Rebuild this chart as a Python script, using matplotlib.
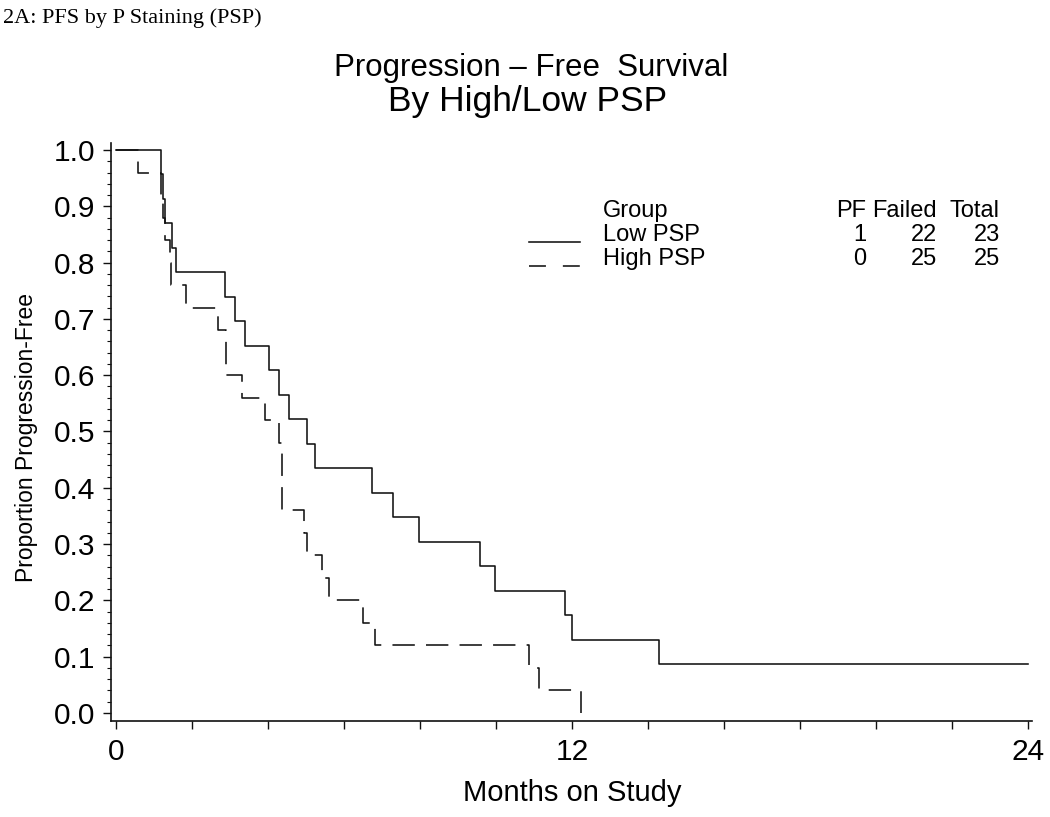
"""
Progression-free survival by high/low PSP (Kaplan-Meier step curves).
Values are read off the published figure.
"""

import matplotlib
matplotlib.use("Agg")
import matplotlib.pyplot as plt
from matplotlib.lines import Line2D
from matplotlib.ticker import MultipleLocator

# -----------------------------------------------------------------------
# Low PSP (solid line): event times in months and proportion progression-free
low_months = [0.0, 1.18, 1.24, 1.28, 1.46, 1.58, 2.87, 3.13, 3.39, 4.03, 4.29,
              4.54, 5.03, 5.24, 6.74, 7.27, 7.96, 9.56, 9.97, 11.82, 11.99,
              14.27, 24.0]
low_pf = [1.0, 0.957, 0.913, 0.870, 0.826, 0.783, 0.739, 0.696, 0.652, 0.609,
          0.565, 0.522, 0.478, 0.435, 0.391, 0.348, 0.304, 0.261, 0.217,
          0.174, 0.130, 0.087, 0.087]

# High PSP (dashed line)
high_months = [0.0, 0.56, 1.18, 1.22, 1.28, 1.41, 1.43, 1.84, 2.67, 2.89, 2.89,
               3.32, 3.91, 4.28, 4.36, 4.36, 4.36, 4.93, 5.02, 5.41, 5.61,
               6.48, 6.82, 10.87, 11.13, 12.23]
high_pf = [1.0, 0.96, 0.92, 0.88, 0.84, 0.80, 0.76, 0.72, 0.68, 0.64, 0.60,
           0.56, 0.52, 0.48, 0.44, 0.40, 0.36, 0.32, 0.28, 0.24, 0.20, 0.16,
           0.12, 0.08, 0.04, 0.00]

legend_groups = ["Low PSP", "High PSP"]
legend_cols = ["PF", "Failed", "Total"]
legend_counts = [["1", "22", "23"], ["0", "25", "25"]]

x_major = [0, 12, 24]
x_labels = ["0", "12", "24"]
x_minor = [0, 2, 4, 6, 8, 10, 12, 14, 16, 18, 20, 22, 24]
y_major = [0.0, 0.1, 0.2, 0.3, 0.4, 0.5, 0.6, 0.7, 0.8, 0.9, 1.0]
y_labels = ["0.0", "0.1", "0.2", "0.3", "0.4", "0.5", "0.6", "0.7", "0.8",
            "0.9", "1.0"]

W, H = 1050, 817
INK = "#111111"
SANS = "Liberation Sans"


def px(x):
    return x / W


def py(y):
    return 1 - y / H


# -----------------------------------------------------------------------
fig = plt.figure(figsize=(W / 100, H / 100), dpi=100, facecolor="white")
ax = fig.add_axes([px(111), py(721), px(1032) - px(111), py(143) - py(721)])

ax.step(low_months, low_pf, where="post", color=INK, linewidth=1.15)
ax.step(high_months, high_pf, where="post", color=INK, linewidth=1.15,
        linestyle=(0, (14, 7)))

ax.set_xlim(-0.14, 24.1)
ax.set_ylim(-0.0142, 1.0124)

for side in ("top", "right"):
    ax.spines[side].set_visible(False)
for side in ("left", "bottom"):
    ax.spines[side].set_linewidth(1.2)
    ax.spines[side].set_color(INK)

ax.set_xticks(x_major)
ax.set_xticks(x_minor, minor=True)
ax.set_xticklabels(x_labels, fontsize=21.5, family=SANS)
ax.set_yticks(y_major)
ax.set_yticklabels(y_labels, fontsize=21.5, family=SANS)
ax.yaxis.set_minor_locator(MultipleLocator(0.02))

ax.tick_params(axis="x", which="both", length=6, width=1, color=INK, pad=6)
ax.tick_params(axis="y", which="major", length=6, width=1, color=INK, pad=5)
ax.tick_params(axis="y", which="minor", length=3, width=0.8, color=INK)

# titles and labels
fig.text(px(3), py(18), "2A: PFS by P Staining (PSP)", family="Liberation Serif",
         fontsize=16, va="center", ha="left")
fig.text(px(531), py(68), "Progression \u2013 Free  Survival", family=SANS,
         fontsize=22.5, va="center", ha="center")
fig.text(px(528), py(101), "By High/Low PSP", family=SANS, fontsize=25.5,
         va="center", ha="center")
fig.text(px(572), py(793), "Months on Study", family=SANS, fontsize=21,
         va="center", ha="center")
fig.text(px(27), py(437), "Proportion Progression-Free", family=SANS,
         fontsize=16.5, va="center", ha="center", rotation=90)

# legend block
LEG_FS = 17
fig.text(px(603), py(217), "Group", family=SANS, fontsize=LEG_FS, va="baseline")
col_right = [866, 937, 1000]
for name, xr in zip(legend_cols, col_right):
    fig.text(px(xr), py(217), name, family=SANS, fontsize=LEG_FS,
             va="baseline", ha="right")

row_base = [241, 265]
line_y = [242, 266]
styles = [dict(linestyle="-"), dict(linestyle=(0, (10.6, 10.6)))]
for grp, counts, yb, yl, st in zip(legend_groups, legend_counts, row_base,
                                   line_y, styles):
    fig.text(px(603), py(yb), grp, family=SANS, fontsize=LEG_FS, va="baseline")
    for val, xr in zip(counts, col_right):
        fig.text(px(xr), py(yb), val, family=SANS, fontsize=LEG_FS,
                 va="baseline", ha="right")
    fig.add_artist(Line2D([px(529), px(580)], [py(yl), py(yl)], color=INK,
                          linewidth=1.15, transform=fig.transFigure, **st))

fig.savefig("out.png", dpi=100, facecolor="white")
